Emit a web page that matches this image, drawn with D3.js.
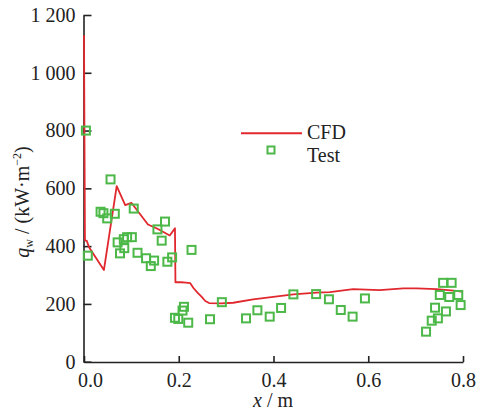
<!DOCTYPE html>
<html>
<head>
<meta charset="utf-8">
<script src="https://cdn.jsdelivr.net/npm/d3@7"></script>
<style>
  body { margin: 0; background: #fff; }
  svg text { font-family: "Liberation Serif", "DejaVu Serif", serif; fill: #222; }
</style>
</head>
<body>
<svg class="chart"></svg>
<script>
// CFD curve along the wall
const cfdX = [0, 0.002, 0.006, 0.011, 0.042, 0.069, 0.087, 0.100, 0.135, 0.155, 0.181, 0.192,
  0.193, 0.205, 0.215, 0.224, 0.231, 0.240, 0.248, 0.256, 0.264, 0.290, 0.315, 0.357,
  0.442, 0.491, 0.519, 0.568, 0.624, 0.674, 0.702, 0.744, 0.786, 0.800];
const cfdY = [1130, 420, 418, 395, 317, 608, 542, 550, 475, 460, 437, 462,
  275, 275, 274, 272, 255, 238, 225, 210, 203, 202, 204, 216,
  233, 239, 241, 251, 248, 254, 254, 251, 245, 242];

// measured heat flux
const testX = [0.004, 0.008, 0.056, 0.035, 0.041, 0.049, 0.065, 0.105, 0.071, 0.084, 0.091, 0.101,
  0.076, 0.085, 0.113, 0.131, 0.148, 0.141, 0.155, 0.171, 0.164, 0.176, 0.186, 0.227,
  0.192, 0.199, 0.208, 0.211, 0.220, 0.266, 0.291, 0.342, 0.366, 0.392, 0.416, 0.442,
  0.490, 0.517, 0.542, 0.567, 0.593, 0.722, 0.734, 0.741, 0.747, 0.751, 0.758, 0.776,
  0.771, 0.764, 0.790, 0.795];
const testY = [800, 367, 631, 519, 514, 496, 512, 530, 413, 424, 431, 431,
  375, 393, 377, 358, 350, 331, 458, 485, 419, 346, 361, 387,
  152, 148, 177, 190, 135, 147, 206, 150, 178, 156, 186, 233,
  234, 216, 179, 156, 219, 104, 142, 187, 150, 231, 273, 273,
  224, 174, 231, 196];

const xTicks = [0, 0.2, 0.4, 0.6, 0.8];
const yTicks = [0, 200, 400, 600, 800, 1000, 1200];
const legendNames = ['CFD', 'Test'];

const [width, height] = [479, 413];
const serif = '"Liberation Serif", "DejaVu Serif", serif';
const red = '#e0282e';
const green = '#4cb848';

const svg = d3.select('.chart').attr('width', width).attr('height', height);

const x = d3.scaleLinear().domain([0, 0.8]).range([84, 463]);
const y = d3.scaleLinear().domain([0, 1200]).range([361.7, 15]);

const fmt = d3.formatLocale({ decimal: '.', thousands: ' ', grouping: [3], currency: ['', ''] }).format(',');

const yAxis = svg.append('g')
  .attr('transform', 'translate(83.5,0)')
  .call(d3.axisLeft(y).tickValues(yTicks).tickFormat(fmt).tickSize(-8).tickSizeOuter(0).tickPadding(8));
const xAxis = svg.append('g')
  .attr('transform', 'translate(0,362)')
  .call(d3.axisBottom(x).tickValues(xTicks).tickFormat(d3.format('.1f')).tickSize(-6).tickSizeOuter(0).tickPadding(11));

[xAxis, yAxis].forEach((g) => {
  g.attr('font-family', serif).attr('font-size', 20);
  g.select('.domain').attr('stroke', '#222').attr('stroke-width', 1.6);
  g.selectAll('.tick line').attr('stroke', '#222').attr('stroke-width', 1.6);
  g.selectAll('.tick text').attr('fill', '#222').attr('font-family', serif).attr('font-size', 20);
});
xAxis.selectAll('.tick text').filter((d) => d === 0).attr('dx', 6);

// CFD line
const line = d3.line().x((d) => x(d[0])).y((d) => y(d[1]));
svg.append('path')
  .datum(cfdX.map((v, i) => [v, cfdY[i]]))
  .attr('d', line)
  .attr('fill', 'none')
  .attr('stroke', red)
  .attr('stroke-width', 1.8)
  .attr('stroke-linejoin', 'round');

// test squares
const s = 8;
svg.append('g')
  .selectAll('rect')
  .data(testX.map((v, i) => [v, testY[i]]))
  .enter()
  .append('rect')
  .attr('x', (d) => x(d[0]) - s / 2)
  .attr('y', (d) => y(d[1]) - s / 2)
  .attr('width', s)
  .attr('height', s)
  .attr('fill', 'none')
  .attr('stroke', green)
  .attr('stroke-width', 2);

// legend
const legend = svg.append('g').attr('font-family', serif);
legend.append('line')
  .attr('x1', 241).attr('x2', 302).attr('y1', 133.3).attr('y2', 133.3)
  .attr('stroke', red).attr('stroke-width', 2);
legend.append('rect')
  .attr('x', 267.5).attr('y', 146.5).attr('width', 7).attr('height', 7)
  .attr('fill', 'none').attr('stroke', green).attr('stroke-width', 2);
legend.selectAll('text')
  .data(legendNames)
  .enter()
  .append('text')
  .attr('x', 307)
  .attr('y', (d, i) => 138.5 + i * 23)
  .attr('font-size', 20)
  .text((d) => d);

// axis titles
const xt = svg.append('text')
  .attr('x', 273).attr('y', 407).attr('text-anchor', 'middle')
  .attr('font-family', serif).attr('font-size', 20);
xt.append('tspan').attr('font-style', 'italic').text('x');
xt.append('tspan').text(' / m');

const yt = svg.append('text')
  .attr('transform', 'translate(29,202) rotate(-90)')
  .attr('text-anchor', 'middle').attr('font-family', serif).attr('font-size', 20);
yt.append('tspan').attr('font-style', 'italic').text('q');
yt.append('tspan').attr('font-size', 12).attr('dy', 4).text('w');
yt.append('tspan').attr('dy', -4).text(' / (kW·m');
yt.append('tspan').attr('font-size', 12).attr('dy', -8).text('−2');
yt.append('tspan').attr('dy', 8).text(')');
</script>
</body>
</html>
